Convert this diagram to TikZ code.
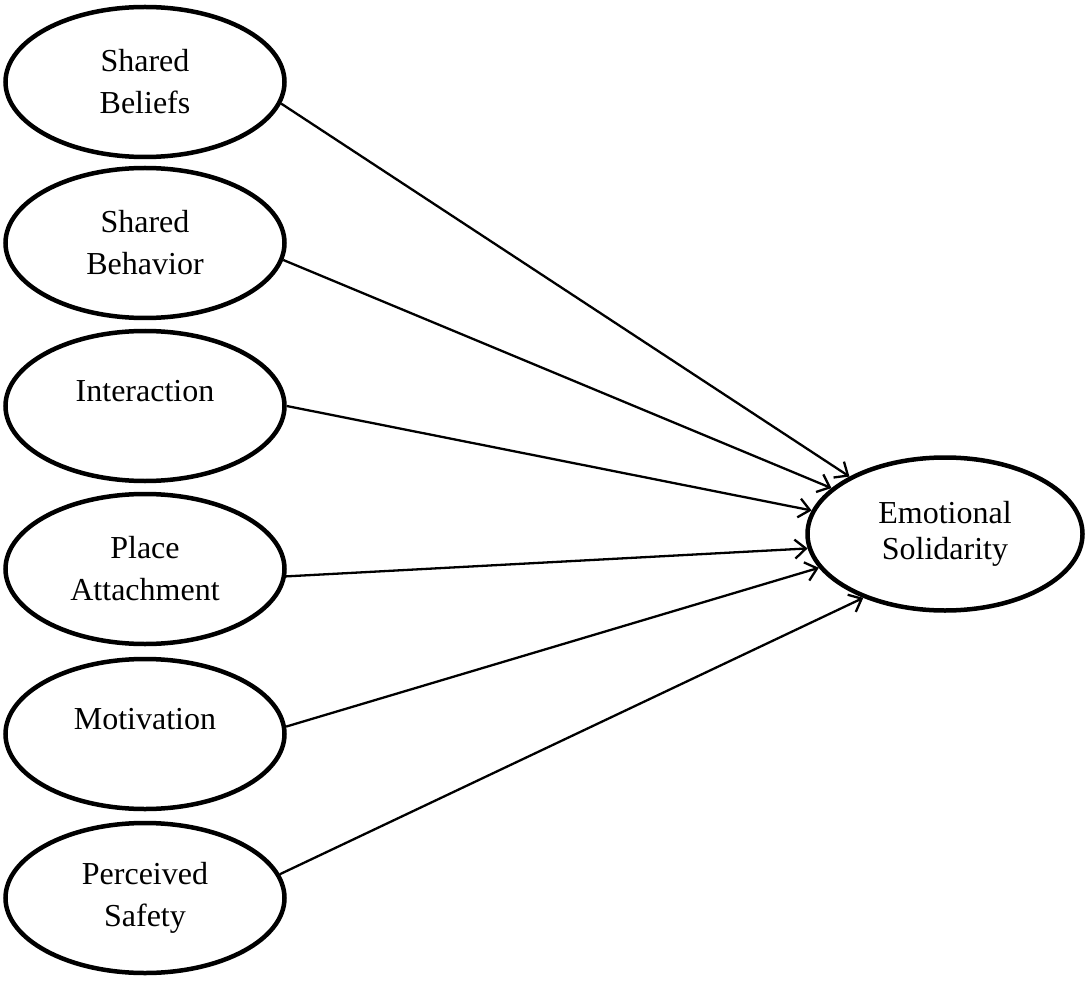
\documentclass[tikz,border=0pt]{standalone}
\usepackage{fontspec}
\setmainfont{Liberation Serif}
\usetikzlibrary{shapes.geometric,arrows.meta}
\tikzset{
  factor/.style={ellipse,draw,line width=4.5pt,minimum width=279pt,minimum height=150pt,inner sep=0pt,align=center,
    font=\fontsize{32}{42}\selectfont},
  target/.style={ellipse,draw,line width=4.5pt,minimum width=275pt,minimum height=153pt,inner sep=0pt,align=center,
    font=\fontsize{32}{36}\selectfont},
  path/.style={line width=2.3pt,-{Straight Barb[length=11pt,width=19pt,line width=2.3pt]}}
}
\newcommand{\upline}[1]{\raisebox{15pt}[\height][\depth]{#1}}
\begin{document}
\begin{tikzpicture}[x=1pt,y=-1pt]
\useasboundingbox (0,0) rectangle (1086,981);
\node[factor] (sb) at (145,82) {Shared\\Beliefs};
\node[factor] (sh) at (145,243) {Shared\\Behavior};
\node[factor] (in) at (145,406) {\upline{Interaction}};
\node[factor] (pa) at (145,569) {Place\\Attachment};
\node[factor] (mo) at (145,734) {\upline{Motivation}};
\node[factor] (ps) at (145,898) {Perceived\\Safety};
\node[target] (es) at (945,534) {Emotional\\Solidarity};
\draw[path] (sb.-9) -- (es.149);
\draw[path] (sh.-7) -- (es.158.5);
\draw[path] (in.0) -- (es.170);
\draw[path] (pa.-3) -- (es.-174.6);
\draw[path] (mo.3) -- (es.-165);
\draw[path] (ps.10) -- (es.-142);
\end{tikzpicture}
\end{document}
